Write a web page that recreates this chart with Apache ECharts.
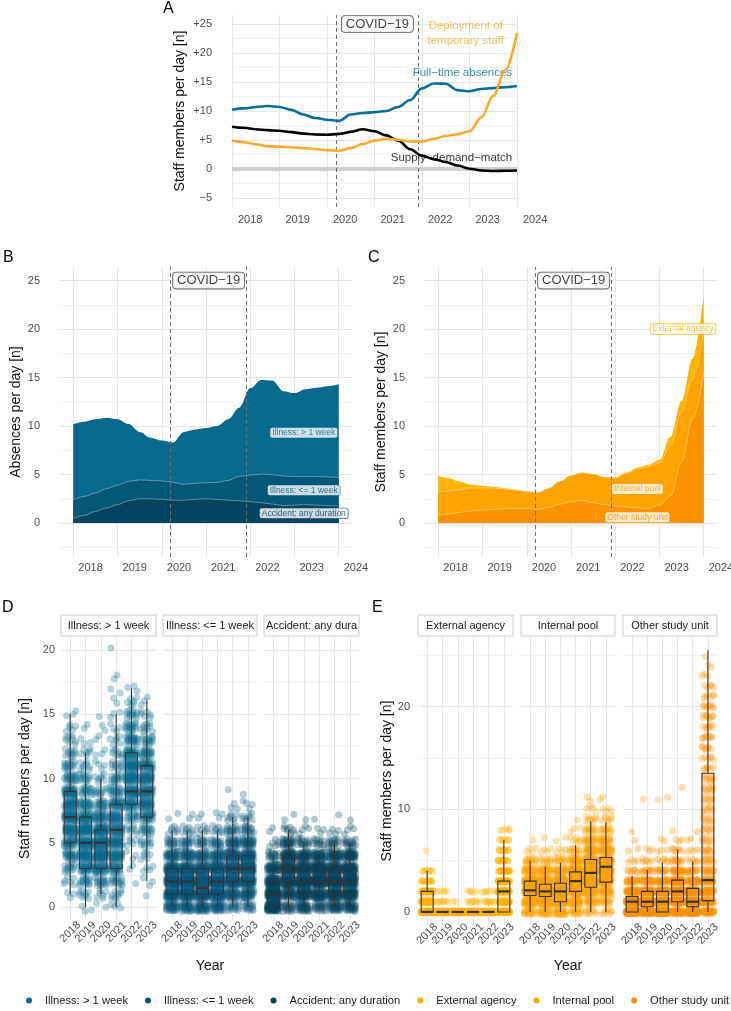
<!DOCTYPE html>
<html>
<head>
<meta charset="utf-8">
<title>Staff absences and temporary staff</title>
<script src="https://cdn.jsdelivr.net/npm/echarts@6.0.0/dist/echarts.min.js"></script>
<style>
  html, body { margin: 0; padding: 0; background: #fff; }
  #main { width: 731px; height: 1011px; }
</style>
</head>
<body>
<div id="main"></div>
<script>
'use strict';

// ---- data ----
// smoothed curves (panels A-C), sampled every quarter year
var quarters = [2018, 2018.25, 2018.5, 2018.75, 2019, 2019.25, 2019.5, 2019.75, 2020, 2020.25, 2020.5, 2020.75,
    2021, 2021.25, 2021.5, 2021.75, 2022, 2022.25, 2022.5, 2022.75, 2023, 2023.25, 2023.5, 2023.75, 2024];

// absences per day (B), bottom -> top of the stack
var absAccident = [0.45, 0.8, 1.2, 1.55, 1.9, 2.3, 2.5, 2.5, 2.45, 2.35, 2.35, 2.45, 2.5, 2.45, 2.35, 2.3, 2.2, 2.1, 1.95, 1.8, 1.85, 1.9, 1.85, 1.8, 1.75];
var absIllShort = [1.95, 1.95, 1.9, 2.0, 2.0, 2.0, 1.95, 1.9, 1.9, 1.85, 1.65, 1.65, 1.65, 1.75, 2.05, 2.5, 2.75, 2.95, 3.05, 3.05, 2.95, 2.9, 2.95, 2.95, 2.95];
var absIllLong = [7.8, 7.7, 7.6, 7.3, 6.8, 5.9, 4.95, 4.4, 4.15, 4.1, 5.4, 5.55, 5.65, 5.8, 6.3, 7.1, 8.95, 9.7, 9.7, 8.75, 8.6, 9.0, 9.15, 9.35, 9.6];

// temporary staff per day (C), bottom -> top of the stack
var tmpOther = [0.8, 0.95, 1.1, 1.25, 1.35, 1.4, 1.45, 1.5, 1.5, 1.4, 1.6, 1.95, 2.2, 2.3, 2.1, 1.9, 1.75, 1.65, 1.55, 1.5, 1.85, 2.8, 6.3, 10.8, 15.5];
var tmpInternal = [2.4, 2.35, 2.35, 2.35, 2.3, 2.2, 2.05, 1.9, 1.75, 1.75, 2.0, 2.35, 2.7, 2.9, 2.95, 2.85, 2.9, 3.45, 4.0, 4.35, 4.35, 5.2, 5.2, 4.1, 4.2];
var tmpExternal = [1.7, 1.3, 0.8, 0.35, 0.2, 0.15, 0.1, 0.05, 0, 0, 0, 0, 0, 0, 0, 0, 0.05, 0.1, 0.15, 0.15, 0.3, 0.9, 1.1, 2.1, 3.8];

// panel A, black curve
var supplyDemandMatch = [7.3, 7.1, 6.85, 6.7, 6.6, 6.35, 6.1, 5.95, 5.9, 6.05, 6.4, 6.85, 6.5, 5.8, 4.9, 3.4, 2.3, 1.7, 1.2, 0.6, 0.05, -0.25, -0.35, -0.3, -0.25];

var covidStart = 2020.2, covidEnd = 2021.92;
var years = ['2018', '2019', '2020', '2021', '2022', '2023'];

// box plots per year: [lower whisker, q1, median, q3, upper whisker]
var illLongBox = [[1, 5, 7, 9, 15], [0, 3, 5, 7, 12], [1, 3, 5, 6, 10], [0, 3, 6, 8, 15], [3, 8, 9, 12, 17], [2, 7, 9, 11, 16]];
var illShortBox = [[0, 1, 2, 3, 6], [0, 1, 2, 3, 6], [0, 1, 1.5, 3, 6], [0, 1, 2, 3, 6], [0, 2, 3, 4, 7], [0, 2, 3, 4, 7]];
var accidentBox = [[0, 0, 1, 2, 4], [0, 2, 3, 4, 6], [0, 1, 2, 3, 5], [1, 2, 2, 3, 4], [0, 1, 2, 3, 5], [0, 1, 2, 3, 5]];
var externalBox = [[0, 0, 0, 2, 4], [0, 0, 0, 0, 0], [0, 0, 0, 0, 0], [0, 0, 0, 0, 0], [0, 0, 0, 0, 0], [0, 0, 2, 3, 7]];
var internalBox = [[0, 1.6, 2.1, 3, 5], [0, 1.5, 2, 2.7, 4.4], [0, 1, 2, 2.8, 4.8], [0, 2, 3, 3.9, 6.5], [0, 2.4, 3.8, 5.1, 8.8], [0, 2.9, 4.4, 5.3, 8.7]];
var otherBox = [[0, 0, 1, 1.5, 3.5], [0, 0.5, 1, 2, 4.1], [0, 0, 1, 2, 4.8], [0, 1, 2, 3.1, 6.1], [0, 0.5, 1, 2.3, 4.9], [0, 1.1, 3.1, 13.5, 25.5]];

// days per year at each head count 0, 1, 2, ... (the dots)
var illLongDays = [
    [0, 3, 6, 12, 20, 24, 28, 35, 30, 32, 20, 14, 10, 8, 5, 3],
    [3, 8, 14, 24, 30, 34, 32, 28, 22, 16, 12, 8, 6, 3, 2],
    [2, 6, 16, 30, 40, 44, 38, 26, 18, 10, 7, 4, 3, 2, 2, 1],
    [4, 8, 14, 22, 26, 28, 28, 26, 24, 18, 14, 10, 8, 6, 4, 3, 2, 2, 2, 0, 1],
    [0, 0, 1, 2, 3, 5, 8, 14, 24, 30, 30, 28, 26, 22, 16, 12, 6, 3],
    [0, 1, 3, 4, 6, 10, 16, 22, 28, 30, 28, 26, 20, 14, 10, 6, 3]
];
var illShortDays = [
    [30, 55, 60, 50, 30, 15, 7, 2],
    [30, 55, 60, 50, 30, 15, 8, 2],
    [35, 62, 58, 45, 28, 14, 7, 2],
    [30, 55, 60, 50, 30, 16, 8, 3],
    [15, 35, 50, 55, 45, 28, 15, 7, 3, 1],
    [15, 33, 50, 55, 45, 30, 16, 8, 4, 1]
];
var accidentDays = [
    [70, 65, 55, 35, 15, 6, 2],
    [20, 35, 55, 60, 45, 25, 8, 2],
    [30, 50, 60, 55, 35, 15, 4, 1],
    [20, 45, 75, 60, 35, 12, 3, 1],
    [30, 50, 60, 55, 35, 15, 4, 1],
    [30, 50, 60, 55, 35, 15, 4, 1]
];
var externalDays = [
    [140, 40, 35, 15, 8, 0, 1],
    [235, 8, 5],
    [245, 2],
    [235, 8, 5],
    [235, 9, 6],
    [70, 30, 45, 35, 25, 15, 12, 8, 5]
];
var internalDays = [
    [20, 50, 75, 55, 30, 15, 4, 1],
    [22, 55, 80, 50, 28, 10, 4, 1],
    [25, 55, 75, 50, 28, 12, 4, 2],
    [15, 30, 50, 60, 45, 28, 12, 6, 3, 1],
    [10, 20, 35, 45, 45, 40, 30, 20, 12, 8, 4, 2],
    [8, 15, 28, 40, 48, 45, 35, 22, 12, 7, 4, 2]
];
var otherDays = [
    [100, 70, 45, 20, 8, 4, 2, 1, 1],
    [70, 75, 55, 28, 12, 6, 3, 0, 0, 0, 0, 1],
    [85, 65, 50, 25, 12, 6, 3, 2, 0, 0, 0, 2],
    [45, 55, 55, 45, 25, 12, 7, 3, 1, 0, 0, 0, 1],
    [65, 75, 55, 30, 15, 6, 4, 2, 1],
    [30, 35, 30, 20, 12, 8, 6, 5, 4, 4, 4, 4, 5, 5, 6, 6, 7, 8, 7, 8, 8, 6, 5, 3, 2, 1]
];

var absNames = ['Illness: > 1 week', 'Illness: <= 1 week', 'Accident: any duration'];
var tmpNames = ['External agency', 'Internal pool', 'Other study unit'];

// ---- styling ----
var FONT = '"Liberation Sans", Arial, sans-serif';
var absColors = ['#08698f', '#05577a', '#03445f'];
var tmpColors = ['#ffb400', '#ffa300', '#fb9200'];
var lineBlue = '#0a6e96', lineOrange = '#f8ab2e';
var MAJOR = '#e6e6e6', MINOR = '#f2f2f2';

// running totals for the stacked panels
function addUp(a, b) { return a.map(function (v, i) { return v + b[i]; }); }
var absLow = absAccident;
var absMid = addUp(absLow, absIllShort);
var absTotal = addUp(absMid, absIllLong);
var tmpLow = tmpOther;
var tmpMid = addUp(tmpLow, tmpInternal);
var tmpTotal = addUp(tmpMid, tmpExternal);

function pairs(ys) {
    return quarters.map(function (x, i) { return [x, ys[i]]; });
}

function isWhole(v) { return Math.abs(v - Math.round(v)) < 1e-6; }
function intFmt(v) { return isWhole(v) ? String(Math.round(v)) : ''; }
function signedFmt(v) {
    if (!isWhole(v)) return '';
    v = Math.round(v);
    return v > 0 ? '+' + v : (v < 0 ? '\u2212' + (-v) : '0');
}
function yearFmt(v) {
    var r = Math.round(v);
    return isWhole(v) && r >= 1 && r <= years.length ? years[r - 1] : '';
}

function axis(o) {
    var ax = {
        type: 'value', gridIndex: o.grid, min: o.min, max: o.max, splitNumber: o.split,
        axisLine: {show: false}, axisTick: {show: false},
        splitLine: {show: true, showMinLine: !!o.edges, showMaxLine: !!o.edges, lineStyle: {color: MAJOR, width: 1}},
        minorTick: {show: false, splitNumber: 2},
        minorSplitLine: {show: !!o.minor, lineStyle: {color: MINOR, width: 1}},
        axisLabel: Object.assign({
            show: o.labels !== false, color: '#4d4d4d', fontSize: 11, fontFamily: FONT,
            showMinLabel: !!o.edges, showMaxLabel: !!o.edges, formatter: o.fmt || intFmt
        }, o.label || {}),
        silent: true
    };
    if (o.interval) ax.interval = o.interval;
    if (o.name) {
        ax.name = o.name;
        ax.nameLocation = 'middle';
        ax.nameGap = o.nameGap;
        ax.nameTextStyle = {fontSize: 14, color: '#111', fontFamily: FONT};
    }
    return ax;
}

// jitter layout: evenly spread offsets (R2 sequence), no randomness
function dots(daysByYear, hJit, vJit) {
    var out = [], k = 0;
    daysByYear.forEach(function (days, yi) {
        days.forEach(function (n, level) {
            for (var j = 0; j < n; j++) {
                k += 1;
                var dx = ((k * 0.7548776662) % 1 - 0.5) * 2 * hJit;
                var dy = ((k * 0.5698402910) % 1 - 0.5) * 2 * vJit;
                out.push([yi + 1 + dx, level + dy]);
            }
        });
    });
    return out;
}

function fade(hex, a) {
    var n = parseInt(hex.slice(1), 16);
    return 'rgba(' + (n >> 16) + ',' + ((n >> 8) & 255) + ',' + (n & 255) + ',' + a + ')';
}

function boxSeries(idx, stats, color) {
    return {
        type: 'custom', xAxisIndex: idx, yAxisIndex: idx, silent: true, z: 4,
        encode: {x: 0, y: [1, 2, 3, 4, 5]},
        data: stats.map(function (s, i) { return [i + 1].concat(s); }),
        renderItem: function (params, api) {
            var x = api.value(0);
            var lo = api.coord([x, api.value(1)]);
            var q1 = api.coord([x, api.value(2)]);
            var md = api.coord([x, api.value(3)]);
            var q3 = api.coord([x, api.value(4)]);
            var hi = api.coord([x, api.value(5)]);
            var half = api.size([0.78, 0])[0] / 2;
            var edge = {stroke: '#333', lineWidth: 1.1};
            return {
                type: 'group',
                children: [
                    {type: 'line', shape: {x1: lo[0], y1: lo[1], x2: q1[0], y2: q1[1]}, style: edge},
                    {type: 'line', shape: {x1: q3[0], y1: q3[1], x2: hi[0], y2: hi[1]}, style: edge},
                    {type: 'rect', shape: {x: q1[0] - half, y: q3[1], width: half * 2, height: q1[1] - q3[1]},
                        style: {stroke: '#333', lineWidth: 1.1, fill: fade(color, 0.3)}},
                    {type: 'line', shape: {x1: md[0] - half, y1: md[1], x2: md[0] + half, y2: md[1]},
                        style: {stroke: '#333', lineWidth: 2.2}}
                ]
            };
        }
    };
}

function dotSeries(idx, name, days, color, vJit) {
    return {
        type: 'scatter', name: name, xAxisIndex: idx, yAxisIndex: idx, silent: true, z: 3,
        symbolSize: 7, progressive: 0, large: false,
        itemStyle: {color: color, opacity: 0.3},
        data: dots(days, 0.4, vJit)
    };
}

function textSeries(idx, items, label) {
    return {
        type: 'scatter', xAxisIndex: idx, yAxisIndex: idx, silent: true, z: label.z || 10,
        symbolSize: 1, itemStyle: {color: 'rgba(0,0,0,0)'},
        data: items.map(function (it) {
            return {
                value: it.at,
                label: Object.assign({show: true, position: 'inside', formatter: it.text, color: it.color,
                    fontFamily: FONT}, label, it.box ? {borderColor: it.color} : {})
            };
        })
    };
}

var covidMid = (covidStart + covidEnd) / 2;
var covidLabel = {
    fontSize: 13, backgroundColor: '#fff', borderColor: '#333', borderWidth: 0.8,
    borderRadius: 3, padding: [2, 4, 1, 4]
};
var smallBox = {
    fontSize: 8.5, backgroundColor: '#fff', borderWidth: 0.7, borderRadius: 2, padding: [1, 2, 0, 2]
};
var dashed = {color: '#6e6e6e', type: [4, 3], width: 1};

function covidLines(z) {
    return {
        silent: true, symbol: 'none', z: z, animation: false, label: {show: false},
        lineStyle: dashed, data: [{xAxis: covidStart}, {xAxis: covidEnd}]
    };
}

// areas are painted top band first, each one filled down to zero
function bandArea(idx, name, ys, color, extra) {
    return Object.assign({
        type: 'line', name: name, xAxisIndex: idx, yAxisIndex: idx,
        data: pairs(ys), smooth: 0.35, smoothMonotone: 'x', symbol: 'none', silent: true, z: 2,
        lineStyle: {color: 'rgba(255,255,255,0.6)', width: 0.6},
        areaStyle: {color: color, opacity: 1, origin: 'auto'}
    }, extra || {});
}

// facet layout
var dLeft = [61, 163, 264], dRight = [156, 257, 359];
var eLeft = [418, 521, 623], eRight = [513, 615, 717];

var grids = [
    {left: 232, right: 731 - 517, top: 15, bottom: 1011 - 207},
    {left: 60, right: 731 - 352, top: 267, bottom: 1011 - 557},
    {left: 425, right: 731 - 717, top: 267, bottom: 1011 - 557}
];
dLeft.forEach(function (l, i) { grids.push({left: l, right: 731 - dRight[i], top: 637, bottom: 1011 - 920}); });
eLeft.forEach(function (l, i) { grids.push({left: l, right: 731 - eRight[i], top: 637, bottom: 1011 - 925}); });
grids.forEach(function (g) { g.outerBoundsMode = 'none'; g.containLabel = false; });

var xAxes = [
    axis({grid: 0, min: 2018, max: 2024, interval: 1, edges: true,
        label: {align: 'left', padding: [0, 0, 0, 6], margin: 7}}),
    axis({grid: 1, min: 2017.7, max: 2024.3, split: 6, label: {align: 'left', padding: [0, 0, 0, 5], margin: 5}}),
    axis({grid: 2, min: 2017.7, max: 2024.3, split: 6, label: {align: 'left', padding: [0, 0, 0, 5], margin: 5}})
];
var yAxes = [
    axis({grid: 0, min: -6.55, max: 26.55, split: 6, minor: true, fmt: signedFmt, label: {margin: 20},
        name: 'Staff members per day [n]', nameGap: 45}),
    axis({grid: 1, min: -3.5, max: 26.4, split: 5, minor: true, label: {margin: 20},
        name: 'Absences per day [n]', nameGap: 37}),
    axis({grid: 2, min: -3.5, max: 26.4, split: 5, minor: true, label: {margin: 20},
        name: 'Staff members per day [n]', nameGap: 37})
];
[0, 1, 2].forEach(function (i) {
    xAxes.push(axis({grid: 3 + i, min: 0.4, max: 6.6, split: 6, fmt: yearFmt,
        label: {rotate: 45, align: 'center', verticalAlign: 'middle', margin: 12},
        name: i === 1 ? 'Year' : null, nameGap: 39}));
    yAxes.push(axis({grid: 3 + i, min: -1, max: 21, split: 5, minor: true, labels: i === 0, label: {margin: 6},
        name: i === 0 ? 'Staff members per day [n]' : null, nameGap: 29}));
});
[0, 1, 2].forEach(function (i) {
    xAxes.push(axis({grid: 6 + i, min: 0.4, max: 6.6, split: 6, fmt: yearFmt,
        label: {rotate: 45, align: 'center', verticalAlign: 'middle', margin: 9},
        name: i === 1 ? 'Year' : null, nameGap: 34}));
    yAxes.push(axis({grid: 6 + i, min: -1.27, max: 26.77, split: 3, minor: true, labels: i === 0, label: {margin: 8},
        name: i === 0 ? 'Staff members per day [n]' : null, nameGap: 23}));
});

var series = [];

// ---- A: lines ----
series.push(textSeries(0, [
    {text: 'Deployment of\ntemporary staff', at: [2022.92, 23.4], color: lineOrange},
    {text: 'Full\u2212time absences', at: [2022.85, 16.5], color: lineBlue},
    {text: 'Supply\u2212demand\u2212match', at: [2022.62, 1.85], color: '#000'}
], {fontSize: 11.5, lineHeight: 15, z: 1.5}));
series.push({
    type: 'line', name: 'supply', xAxisIndex: 0, yAxisIndex: 0, data: pairs(supplyDemandMatch),
    smooth: 0.35, smoothMonotone: 'x', symbol: 'none', silent: true, z: 2,
    lineStyle: {color: '#000', width: 2.6},
    markLine: {
        silent: true, symbol: 'none', z: 1, animation: false, label: {show: false},
        data: [
            {yAxis: 0, lineStyle: {color: '#d0d0d0', width: 4, type: 'solid'}},
            {xAxis: covidStart, lineStyle: dashed},
            {xAxis: covidEnd, lineStyle: dashed}
        ]
    }
});
series.push({
    type: 'line', name: 'absences', xAxisIndex: 0, yAxisIndex: 0, data: pairs(absTotal),
    smooth: 0.35, smoothMonotone: 'x', symbol: 'none', silent: true, z: 2,
    lineStyle: {color: lineBlue, width: 2.6}
});
series.push({
    type: 'line', name: 'deployment', xAxisIndex: 0, yAxisIndex: 0, data: pairs(tmpTotal),
    smooth: 0.35, smoothMonotone: 'x', symbol: 'none', silent: true, z: 2,
    lineStyle: {color: lineOrange, width: 2.6}
});
series.push(textSeries(0, [{text: 'COVID\u221219', at: [covidMid, 25], color: '#111'}], covidLabel));

// ---- B: stacked absences ----
series.push(bandArea(1, 'B long', absTotal, absColors[0], {lineStyle: {width: 0}}));
series.push(bandArea(1, 'B short', absMid, absColors[1]));
series.push(bandArea(1, 'B accident', absLow, absColors[2], {markLine: covidLines(5)}));
series.push(textSeries(1, [{text: 'COVID\u221219', at: [covidMid, 25], color: '#111'}], covidLabel));
series.push(textSeries(1, [
    {text: absNames[0], at: [2023.21, 9.3], color: absColors[0], box: true},
    {text: absNames[1], at: [2023.21, 3.37], color: absColors[1], box: true},
    {text: absNames[2], at: [2023.21, 1.0], color: absColors[2], box: true}
], smallBox));

// ---- C: stacked temporary staff ----
series.push(bandArea(2, 'C external', tmpTotal, tmpColors[0], {lineStyle: {width: 0}}));
series.push(bandArea(2, 'C internal', tmpMid, tmpColors[1]));
series.push(bandArea(2, 'C other', tmpLow, tmpColors[2], {markLine: covidLines(5)}));
series.push(textSeries(2, [{text: 'COVID\u221219', at: [covidMid, 25], color: '#111'}], covidLabel));
series.push(textSeries(2, [
    {text: tmpNames[0], at: [2023.53, 20.0], color: tmpColors[0], box: true},
    {text: tmpNames[1], at: [2022.5, 3.5], color: tmpColors[1], box: true},
    {text: tmpNames[2], at: [2022.5, 0.6], color: tmpColors[2], box: true}
], smallBox));

// ---- D: absences per day, by year ----
series.push(dotSeries(3, absNames[0], illLongDays, absColors[0], 0.35));
series.push(dotSeries(4, absNames[1], illShortDays, absColors[1], 0.35));
series.push(dotSeries(5, absNames[2], accidentDays, absColors[2], 0.35));
series.push(boxSeries(3, illLongBox, absColors[0]));
series.push(boxSeries(4, illShortBox, absColors[1]));
series.push(boxSeries(5, accidentBox, absColors[2]));

// ---- E: temporary staff per day, by year ----
series.push(dotSeries(6, tmpNames[0], externalDays, tmpColors[0], 0.08));
series.push(dotSeries(7, tmpNames[1], internalDays, tmpColors[1], 0.3));
series.push(dotSeries(8, tmpNames[2], otherDays, tmpColors[2], 0.2));
series.push(boxSeries(6, externalBox, tmpColors[0]));
series.push(boxSeries(7, internalBox, tmpColors[1]));
series.push(boxSeries(8, otherBox, tmpColors[2]));

// facet strips and panel tags
var graphic = [];
function strip(l, r, text) {
    graphic.push({type: 'rect', shape: {x: l, y: 615, width: r - l, height: 21},
        style: {fill: '#fff', stroke: '#cbcbcb', lineWidth: 1}, silent: true});
    graphic.push({type: 'text', x: (l + r) / 2, y: 625.5,
        style: {text: text, fill: '#1a1a1a', font: '11px ' + FONT, align: 'center', verticalAlign: 'middle',
            width: r - l - 1, overflow: 'truncate', ellipsis: ''}, silent: true});
}
dLeft.forEach(function (l, i) { strip(l, dRight[i], absNames[i]); });
eLeft.forEach(function (l, i) { strip(l, eRight[i], tmpNames[i]); });
[['A', 163, 1], ['B', 3, 250], ['C', 368, 250], ['D', 2, 600], ['E', 372, 600]].forEach(function (t) {
    graphic.push({type: 'text', x: t[1], y: t[2], silent: true,
        style: {text: t[0], fill: '#000', font: '16px ' + FONT}});
});

var legendNames = absNames.concat(tmpNames);
var legendColors = absColors.concat(tmpColors);

var chart = echarts.init(document.getElementById('main'), null, {renderer: 'canvas'});
chart.setOption({
    animation: false,
    backgroundColor: '#fff',
    textStyle: {fontFamily: FONT},
    grid: grids,
    xAxis: xAxes,
    yAxis: yAxes,
    legend: {
        left: 21, width: 780, top: 990, orient: 'horizontal', selectedMode: false,
        icon: 'circle', itemWidth: 22, itemHeight: 6, itemGap: 17,
        textStyle: {fontSize: 11.2, color: '#1a1a1a', fontFamily: FONT},
        data: legendNames.map(function (n, i) {
            return {name: n, itemStyle: {color: legendColors[i], opacity: 1}};
        })
    },
    graphic: graphic,
    series: series
});
</script>
</body>
</html>
